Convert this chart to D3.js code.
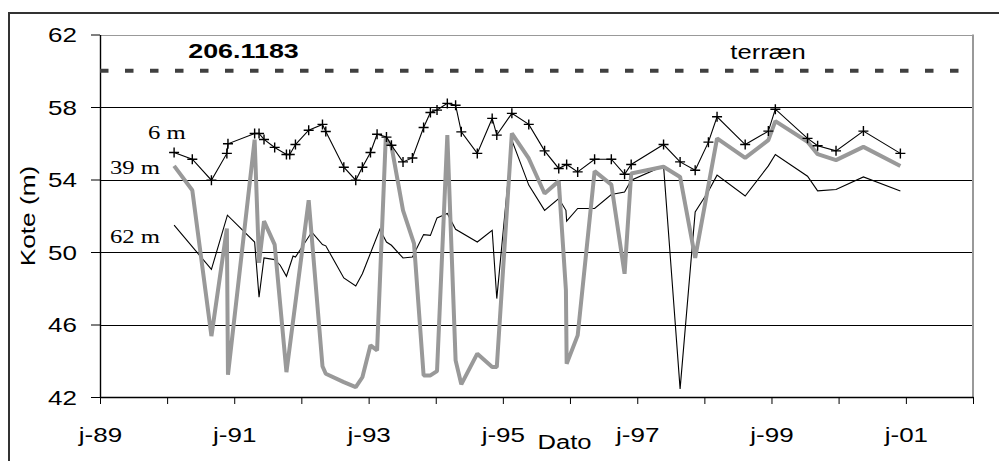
<!DOCTYPE html>
<html>
<head>
<meta charset="utf-8">
<script src="https://cdn.jsdelivr.net/npm/d3@7"></script>
<style>
  html, body { margin: 0; padding: 0; background: #fff; }
  svg { display: block; }
</style>
</head>
<body>
<svg id="chart" width="999" height="461"></svg>
<script>
// Boring 206.1183 – water level (kote) in three filter depths
const dates6 = ["1990-02-08","1990-05-18","1990-08-30","1990-11-22","1990-11-28","1991-04-22","1991-05-16","1991-06-12","1991-08-09","1991-10-12","1991-10-30","1991-11-30","1992-02-10","1992-04-25","1992-05-13","1992-08-19","1992-10-23","1992-11-28","1993-01-11","1993-02-16","1993-04-08","1993-05-05","1993-07-07","1993-08-27","1993-10-27","1993-12-03","1994-01-08","1994-03-05","1994-04-19","1994-05-20","1994-08-15","1994-11-04","1994-11-29","1995-02-19","1995-05-22","1995-08-16","1995-11-01","1995-12-14","1996-02-12","1996-05-14","1996-08-13","1996-10-24","1996-11-29","1997-05-24","1997-08-22","1997-11-12","1998-01-23","1998-03-11","1998-08-11","1998-12-15","1999-01-22","1999-07-16","1999-09-09","1999-12-18","2000-05-15","2000-12-02"];
const kote6 = [55.49,55.12,53.96,55.44,55.97,56.54,56.54,56.21,55.77,55.38,55.38,55.93,56.72,57.04,56.65,54.68,53.96,54.68,55.49,56.50,56.34,55.89,54.97,55.19,56.87,57.70,57.83,58.20,58.10,56.63,55.44,57.37,56.45,57.65,57.04,55.58,54.61,54.83,54.42,55.12,55.12,54.29,54.83,55.93,54.97,54.51,56.06,57.46,55.93,56.67,57.88,56.27,55.86,55.58,56.67,55.44];

const dates39 = ["1990-02-08","1990-05-18","1990-08-30","1990-11-22","1990-11-28","1991-04-22","1991-05-16","1991-06-12","1991-08-09","1991-10-12","1992-02-10","1992-04-25","1992-05-13","1992-08-19","1992-10-23","1992-11-28","1993-01-11","1993-02-16","1993-04-04","1993-05-05","1993-07-07","1993-09-05","1993-10-27","1993-12-03","1994-01-08","1994-03-05","1994-04-19","1994-05-20","1994-08-15","1994-11-04","1994-11-29","1995-02-19","1995-05-22","1995-08-16","1995-11-01","1995-12-10","1995-12-14","1996-02-12","1996-05-14","1996-08-13","1996-10-24","1996-11-29","1997-05-24","1997-08-22","1997-11-12","1998-03-11","1998-08-11","1998-12-15","1999-01-22","1999-07-16","1999-09-09","1999-12-18","2000-05-15","2000-12-02"];
const kote39 = [54.75,53.41,45.36,51.30,43.23,56.20,49.40,51.70,50.41,43.37,52.86,43.70,43.28,42.82,42.54,43.09,44.85,44.57,56.27,55.85,52.30,50.46,43.19,43.19,43.43,56.45,44.02,42.70,44.39,43.65,43.65,56.54,55.16,53.23,53.91,47.90,43.83,45.40,54.46,53.72,48.80,54.33,54.70,54.14,49.68,56.27,55.19,56.17,57.22,56.08,55.40,55.07,55.80,54.75];

const dates62 = ["1990-02-08","1990-08-30","1990-11-25","1991-04-22","1991-05-16","1991-06-12","1991-08-09","1991-09-08","1991-10-12","1991-11-17","1991-11-30","1992-02-27","1992-04-25","1992-05-13","1992-08-19","1992-10-23","1992-11-28","1993-03-03","1993-04-08","1993-05-05","1993-07-07","1993-08-27","1993-10-27","1993-12-03","1994-01-08","1994-03-05","1994-04-19","1994-08-15","1994-11-04","1994-11-29","1995-02-19","1995-05-22","1995-08-16","1995-11-01","1995-12-10","1995-12-14","1996-02-12","1996-05-14","1996-08-13","1996-10-24","1996-11-29","1997-05-24","1997-08-22","1997-11-12","1998-01-23","1998-03-11","1998-08-11","1998-12-15","1999-01-22","1999-07-16","1999-09-09","1999-12-18","2000-05-15","2000-12-02"];
const kote62 = [51.48,49.04,52.03,50.55,47.51,49.67,49.58,49.27,48.66,49.78,49.72,51.10,50.41,50.34,48.57,48.12,48.80,51.25,50.55,50.37,49.67,49.72,50.96,50.92,51.88,52.12,51.25,50.55,51.20,47.43,56.17,53.69,52.30,52.95,52.30,51.70,52.40,52.40,53.17,53.31,53.96,54.75,42.45,52.21,53.35,54.24,53.09,54.75,55.38,54.18,53.37,53.45,54.14,53.37];

const terrainKote = 60;
const yTicks = [42, 46, 50, 54, 58, 62];
const xDomain = ["1989-01-01", "2002-01-01"];
const seriesLabels = ["6 m", "39 m", "62 m"];
const boringId = "206.1183";
const terrainLabel = "terræn";
const xTitle = "Dato";
const yTitle = "Kote (m)";

const parse = d3.timeParse("%Y-%m-%d");
const zip = (ds, vs) => ds.map((d, i) => ({ date: parse(d), v: vs[i] }));
const s6 = zip(dates6, kote6), s39 = zip(dates39, kote39), s62 = zip(dates62, kote62);

const svg = d3.select("#chart");
const W = 999, H = 461;
const plotL = 100, plotR = 973, plotT = 34.5, plotB = 397;
const sans = "'Liberation Sans', Arial, Helvetica, sans-serif";
const serif = "'Liberation Serif', 'Times New Roman', serif";

svg.append("rect").attr("width", W).attr("height", H).attr("fill", "#fff");
// chart frame
svg.append("rect").attr("x", 9).attr("y", 13).attr("width", 1010).attr("height", 470)
  .attr("fill", "none").attr("stroke", "#333").attr("stroke-width", 2);

const x = d3.scaleTime().domain(xDomain.map(parse)).range([plotL, plotR]);
const y = d3.scaleLinear().domain([42, 62]).range([plotB, plotT]);

// horizontal grid
svg.append("g").selectAll("line").data(yTicks.filter(v => v > 42)).join("line")
  .attr("x1", plotL).attr("x2", plotR)
  .attr("y1", d => Math.round(y(d)) + 0.5).attr("y2", d => Math.round(y(d)) + 0.5)
  .attr("stroke", d => d === 62 ? "#999" : "#000").attr("stroke-width", 1);
// right edge of plot area
svg.append("line").attr("x1", plotR).attr("x2", plotR).attr("y1", y(62)).attr("y2", plotB)
  .attr("stroke", "#999").attr("stroke-width", 2);

// text helper: stretched glyphs
function stretch(sel, sx) {
  sel.each(function () {
    const t = d3.select(this);
    const tx = +t.attr("x") || 0, ty = +t.attr("y") || 0;
    t.attr("x", 0).attr("y", 0).attr("dy", null)
      .attr("transform", `translate(${tx},${ty}) scale(${sx},1)`);
  });
}

// y axis
const gy = svg.append("g").attr("transform", `translate(${plotL},0)`)
  .call(d3.axisLeft(y).tickValues(yTicks).tickSize(9).tickSizeOuter(0).tickPadding(14).tickFormat(d3.format("d")));
gy.select(".domain").attr("stroke", "#000").attr("stroke-width", 1.4);
gy.selectAll(".tick line").attr("stroke", "#000");
gy.selectAll(".tick text").attr("y", 7).attr("fill", "#000")
  .style("font-family", sans).style("font-size", "20px");
stretch(gy.selectAll(".tick text"), 1.3);

// x axis
const gx = svg.append("g").attr("transform", `translate(0,${plotB})`)
  .call(d3.axisBottom(x).ticks(d3.timeYear.every(1)).tickSize(7).tickSizeOuter(0)
    .tickFormat(d => d.getFullYear() % 2 === 1 ? "j-" + d3.timeFormat("%y")(d) : ""));
gx.select(".domain").attr("stroke", "#000").attr("stroke-width", 1.4);
gx.selectAll(".tick line").attr("stroke", "#000");
gx.selectAll(".tick text").attr("y", 44.7).attr("fill", "#000")
  .style("font-family", sans).style("font-size", "20px");
stretch(gx.selectAll(".tick text"), 1.3);

// terrain level
svg.append("line").attr("x1", plotL).attr("x2", plotR)
  .attr("y1", y(terrainKote)).attr("y2", y(terrainKote))
  .attr("stroke", "#404040").attr("stroke-width", 4).attr("stroke-dasharray", "8.5,16.5");

const line = d3.line().x(d => x(d.date)).y(d => y(d.v));

// 62 m filter
svg.append("path").datum(s62).attr("d", line)
  .attr("fill", "none").attr("stroke", "#000").attr("stroke-width", 1.1).attr("stroke-linejoin", "miter");
// 39 m filter
svg.append("path").datum(s39).attr("d", line)
  .attr("fill", "none").attr("stroke", "#999").attr("stroke-width", 4).attr("stroke-linejoin", "bevel");
// 6 m filter with markers
svg.append("path").datum(s6).attr("d", line)
  .attr("fill", "none").attr("stroke", "#000").attr("stroke-width", 1.1);
svg.append("g").selectAll("path").data(s6).join("path")
  .attr("d", "M-5,0H5M0,-5V5")
  .attr("transform", d => `translate(${x(d.date)},${y(d.v)})`)
  .attr("stroke", "#000").attr("stroke-width", 1.4).attr("fill", "none");

// labels
function label(txt, px, py, opts) {
  const t = svg.append("text").text(txt)
    .attr("x", px).attr("y", py)
    .attr("text-anchor", opts.anchor || "start")
    .style("font-family", opts.family || sans)
    .style("font-size", (opts.size || 20) + "px")
    .style("font-weight", opts.weight || "normal")
    .attr("fill", "#000");
  stretch(t, opts.sx || 1);
  if (opts.rotate) t.attr("transform", `translate(${px},${py}) rotate(${opts.rotate}) scale(${opts.sx || 1},1)`);
  return t;
}

label(boringId, 243.5, 57.7, { anchor: "middle", size: 21, weight: "bold", sx: 1.28 });
label(terrainLabel, 768, 59, { anchor: "middle", size: 21, sx: 1.22 });
label(seriesLabels[0], 148, 139.3, { family: serif, size: 19, sx: 1.3 });
label(seriesLabels[1], 110, 174, { family: serif, size: 19, sx: 1.3 });
label(seriesLabels[2], 110, 243, { family: serif, size: 19, sx: 1.3 });
label(xTitle, 564.5, 449, { anchor: "middle", size: 21, sx: 1.22 });
label(yTitle, 35, 216, { anchor: "middle", size: 21, sx: 1.25, rotate: -90 });
</script>
</body>
</html>
